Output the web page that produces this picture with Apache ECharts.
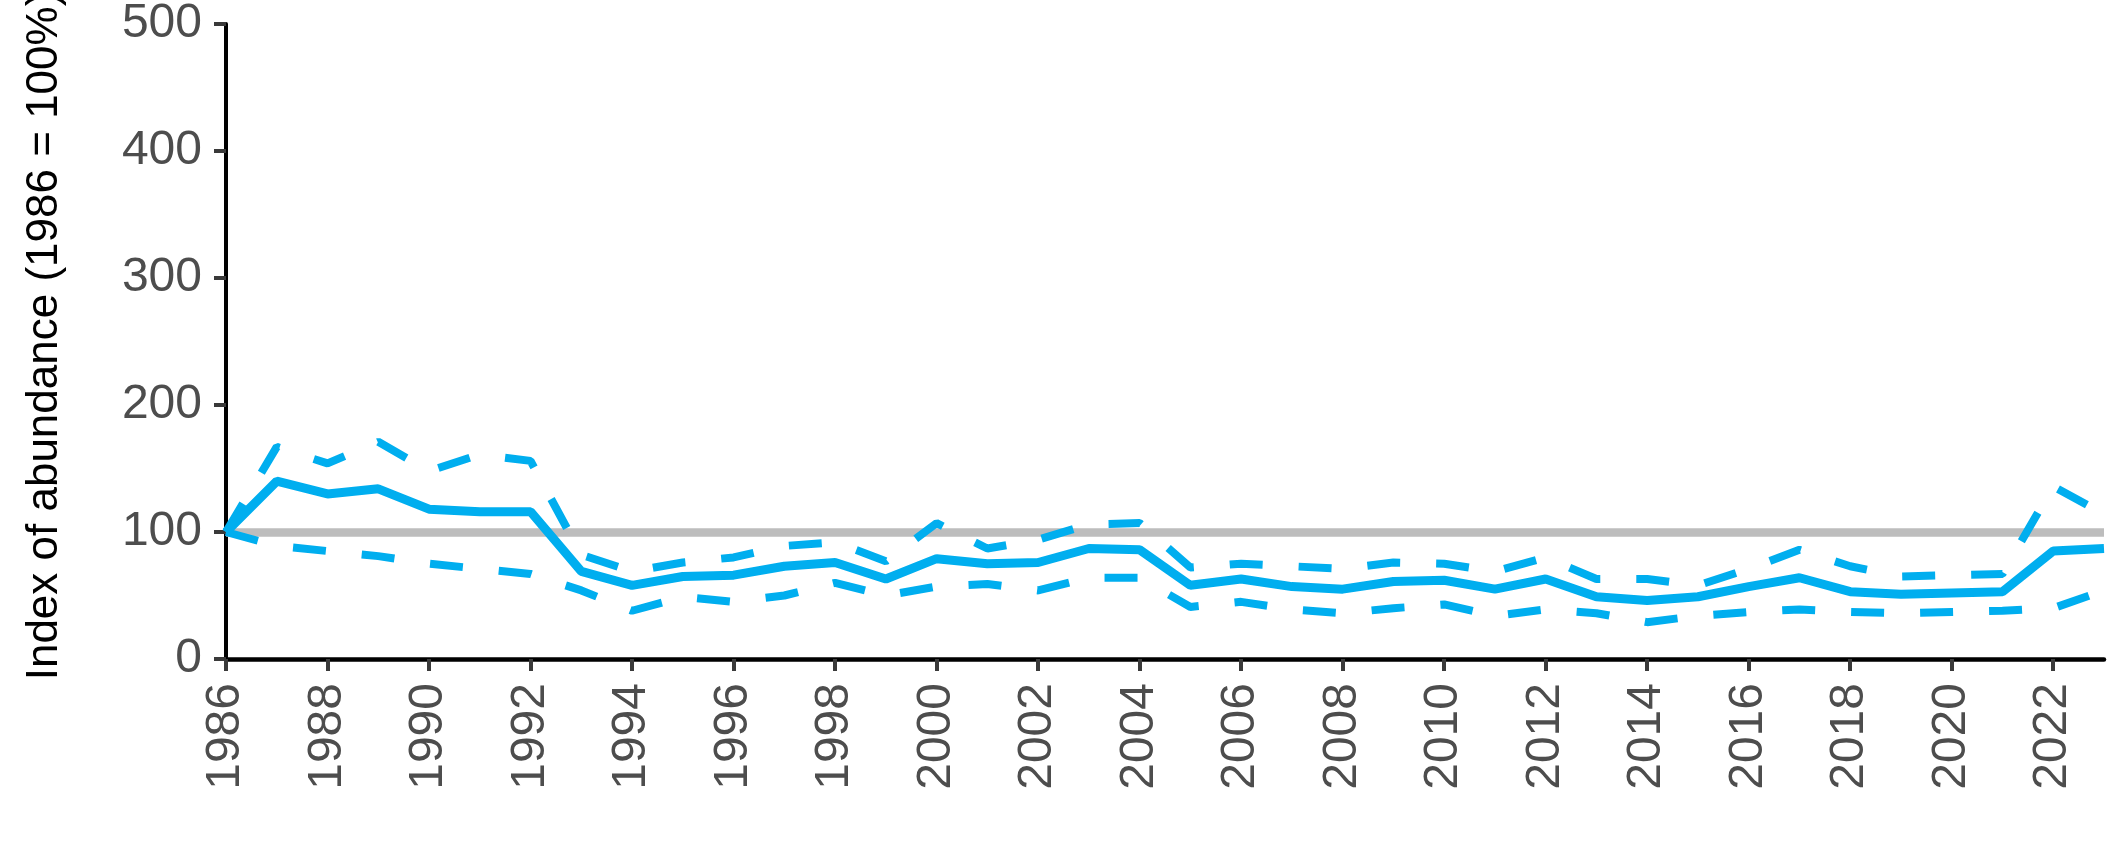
<!DOCTYPE html>
<html>
<head>
<meta charset="utf-8">
<script src="https://cdn.jsdelivr.net/npm/echarts@6/dist/echarts.min.js"></script>
<style>
html,body{margin:0;padding:0;background:#fff;}
#chart{width:2127px;height:866px;}
</style>
</head>
<body>
<div id="chart"></div>
<script>
const years = ['1986','1987','1988','1989','1990','1991','1992','1993','1994','1995','1996','1997','1998','1999','2000','2001','2002','2003','2004','2005','2006','2007','2008','2009','2010','2011','2012','2013','2014','2015','2016','2017','2018','2019','2020','2021','2022','2023'];
const indexValues = [100,140,130,134,118,116,116,69,58,65,66,73,76,63,79,75,76,87,86,58,63,57,55,61,62,55,63,49,46,49,57,64,53,51,52,53,85,87];
const upperLimit = [100,167,154,171,148,161,156,82,69,76,80,89,92,77,107,87,94,106,107,72,75,73,71,76,75,69,80,63,63,58,71,86,73,65,66,67,136,114];
const lowerLimit = [100,89,85,81,75,71,67,54,38,49,45,50,60,50,57,59,54,64,64,41,45,39,36,40,43,34,39,36,29,34,37,39,37,36,37,38,40,54];
const baseline = 100;
const yTicks = {min: 0, max: 500, interval: 100};
const yTitle = 'Index of abundance (1986 = 100%)';

const blue = '#00AEEF';
const font = 'Liberation Sans, Arial, sans-serif';
const chart = echarts.init(document.getElementById('chart'), null, {renderer: 'canvas'});
chart.setOption({
  animation: false,
  backgroundColor: '#ffffff',
  grid: {left: 226, right: 23, top: 23, bottom: 207, containLabel: false},
  graphic: [{
    type: 'text',
    x: 45, y: 336,
    rotation: Math.PI / 2,
    style: {text: yTitle, font: '44px ' + font, fill: '#000000', align: 'center', verticalAlign: 'middle'}
  }],
  xAxis: {
    type: 'category',
    data: years,
    boundaryGap: false,
    axisLine: {lineStyle: {color: '#000000', width: 4.5}},
    axisTick: {show: true, interval: 1, length: 12, lineStyle: {color: '#3a3a3a', width: 4}},
    axisLabel: {interval: 1, rotate: 90, margin: 24, fontSize: 48, fontFamily: font, color: '#4d4d4d'},
    splitLine: {show: false}
  },
  yAxis: {
    type: 'value',
    min: yTicks.min, max: yTicks.max, interval: yTicks.interval,
    axisLine: {show: true, lineStyle: {color: '#000000', width: 4}},
    axisTick: {show: true, length: 12, lineStyle: {color: '#3a3a3a', width: 4}},
    axisLabel: {margin: 24, fontSize: 48, fontFamily: font, color: '#4d4d4d'},
    splitLine: {show: false}
  },
  series: [
    {
      type: 'line', name: 'Lower', data: lowerLimit, showSymbol: false, z: 3,
      lineStyle: {color: blue, width: 8, type: [33, 36], cap: 'butt'},
      markLine: {
        silent: true, symbol: 'none', z: 1,
        label: {show: false},
        lineStyle: {color: '#bdbdbd', width: 8.5, type: 'solid'},
        data: [{yAxis: baseline}]
      }
    },
    {
      type: 'line', name: 'Upper', data: upperLimit, showSymbol: false, z: 3,
      lineStyle: {color: blue, width: 8, type: [33, 36], cap: 'butt'}
    },
    {
      type: 'line', name: 'Index', data: indexValues, showSymbol: false, z: 4,
      lineStyle: {color: blue, width: 9, type: 'solid'}
    }
  ]
});
</script>
</body>
</html>
